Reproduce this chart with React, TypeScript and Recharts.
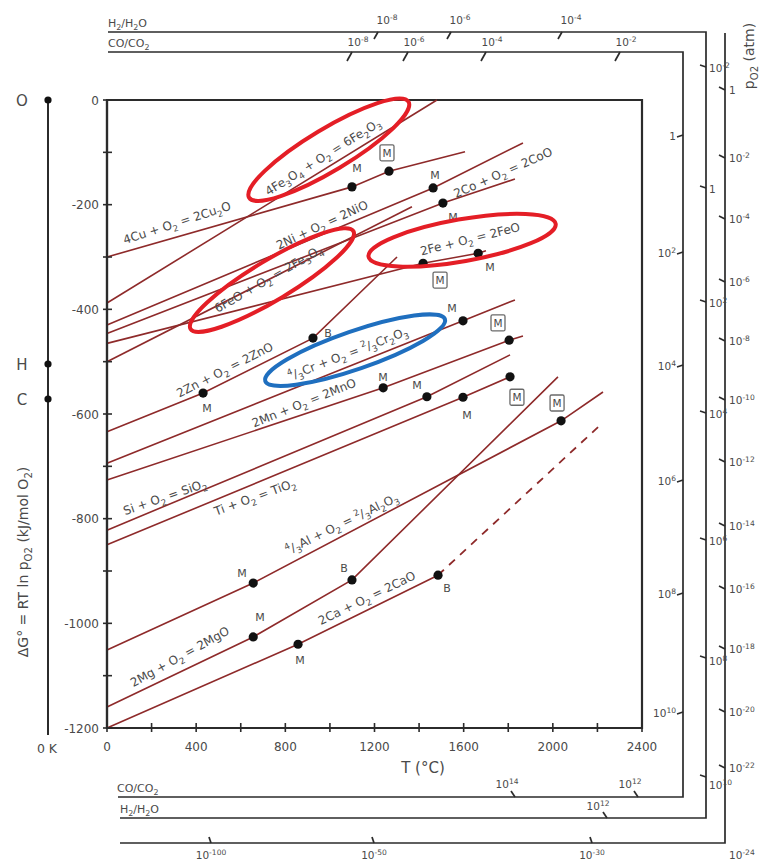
import React from 'react';
import { LineChart, Line, XAxis, YAxis, ReferenceArea, ReferenceDot, Customized } from 'recharts';

type Pt = { t: number; g: number; dot?: boolean };

// ΔG° of oxide formation (T in °C, kJ/mol O2)
const cu2o: Pt[] = [{ t: 0, g: -300 }, { t: 1099, g: -166, dot: true }, { t: 1265, g: -136, dot: true }, { t: 1606, g: -99 }];
const fe2o3: Pt[] = [{ t: 0, g: -388 }, { t: 1480, g: 0 }];
const nio: Pt[] = [{ t: 0, g: -430 }, { t: 1463, g: -168, dot: true }, { t: 1866, g: -82 }];
const coo: Pt[] = [{ t: 0, g: -446 }, { t: 1507, g: -197, dot: true }, { t: 1830, g: -151 }];
const feo: Pt[] = [{ t: 0, g: -465 }, { t: 1418, g: -312, dot: true }, { t: 1665, g: -293, dot: true }, { t: 1700, g: -288 }];
const fe3o4: Pt[] = [{ t: 0, g: -500 }, { t: 1368, g: -204 }];
const zno: Pt[] = [{ t: 0, g: -634 }, { t: 431, g: -560, dot: true }, { t: 924, g: -455, dot: true }, { t: 1301, g: -300 }];
const cr2o3: Pt[] = [{ t: 0, g: -694 }, { t: 1597, g: -422, dot: true }, { t: 1830, g: -382 }];
const mno: Pt[] = [{ t: 0, g: -726 }, { t: 1239, g: -550, dot: true }, { t: 1804, g: -459, dot: true }, { t: 1866, g: -451 }];
const sio2: Pt[] = [{ t: 0, g: -822 }, { t: 1435, g: -567, dot: true }, { t: 1808, g: -487 }];
const tio2: Pt[] = [{ t: 0, g: -850 }, { t: 1597, g: -568, dot: true }, { t: 1808, g: -529, dot: true }];
const al2o3: Pt[] = [{ t: 0, g: -1051 }, { t: 656, g: -923, dot: true }, { t: 2037, g: -613, dot: true }, { t: 2225, g: -558 }];
const mgo: Pt[] = [{ t: 0, g: -1160 }, { t: 656, g: -1026, dot: true }, { t: 1099, g: -917, dot: true }, { t: 2023, g: -529 }];
const cao: Pt[] = [{ t: 0, g: -1200 }, { t: 857, g: -1040, dot: true }, { t: 1485, g: -908, dot: true }];
const caoDashed: Pt[] = [{ t: 1485, g: -908 }, { t: 2203, g: -625 }];

const solidLines = [cu2o, fe2o3, nio, coo, feo, fe3o4, zno, cr2o3, mno, sio2, tio2, al2o3, mgo, cao];

const xTicks = [0, 200, 400, 600, 800, 1000, 1200, 1400, 1600, 1800, 2000, 2200, 2400];
const yTicks = [0, -100, -200, -300, -400, -500, -600, -700, -800, -900, -1000, -1100, -1200];

// reaction labels (centre in data coords, text angle)
const reactionLabels = [
  { text: '4Cu + O_{2} = 2Cu_{2}O', t: 314, g: -235, angle: -18 },
  { text: '4Fe_{3}O_{4} + O_{2} = 6Fe_{2}O_{3}', t: 969, g: -109, angle: -32 },
  { text: '2Ni + O_{2} = 2NiO', t: 965, g: -239, angle: -25 },
  { text: '6FeO + O_{2} = 2Fe_{3}O_{4}', t: 725, g: -342, angle: -30 },
  { text: '2Co + O_{2} = 2CoO', t: 1777, g: -139, angle: -24 },
  { text: '2Fe + O_{2} = 2FeO', t: 1629, g: -266, angle: -14 },
  { text: '2Zn + O_{2} = 2ZnO', t: 529, g: -516, angle: -27 },
  { text: '^{4}/_{3}Cr + O_{2} = ^{2}/_{3}Cr_{2}O_{3}', t: 1081, g: -485, angle: -21 },
  { text: '2Mn + O_{2} = 2MnO', t: 884, g: -579, angle: -22 },
  { text: 'Si + O_{2} = SiO_{2}', t: 260, g: -759, angle: -19 },
  { text: 'Ti + O_{2} = TiO_{2}', t: 664, g: -759, angle: -20 },
  { text: '^{4}/_{3}Al + O_{2} = ^{2}/_{3}Al_{2}O_{3}', t: 1054, g: -810, angle: -26 },
  { text: '2Mg + O_{2} = 2MgO', t: 327, g: -1064, angle: -29 },
  { text: '2Ca + O_{2} = 2CaO', t: 1166, g: -952, angle: -26 },
];

// M = melting point, [M] = oxide melting, B = boiling point
const pointLabels = [
  { text: 'M', t: 1122, g: -130 },
  { text: 'M', t: 1256, g: -101, boxed: true },
  { text: 'M', t: 1471, g: -143 },
  { text: 'M', t: 1552, g: -224 },
  { text: 'M', t: 1494, g: -344, boxed: true },
  { text: 'M', t: 1718, g: -319 },
  { text: 'M', t: 449, g: -589 },
  { text: 'B', t: 991, g: -445 },
  { text: 'M', t: 1548, g: -397 },
  { text: 'M', t: 1238, g: -529 },
  { text: 'M', t: 1754, g: -426, boxed: true },
  { text: 'M', t: 1391, g: -545 },
  { text: 'M', t: 1615, g: -602 },
  { text: 'M', t: 1839, g: -568, boxed: true },
  { text: 'M', t: 2019, g: -579, boxed: true },
  { text: 'M', t: 606, g: -904 },
  { text: 'M', t: 686, g: -988 },
  { text: 'B', t: 1063, g: -894 },
  { text: 'M', t: 866, g: -1070 },
  { text: 'B', t: 1525, g: -933 },
];

// highlight ellipses around the iron and chromium reactions
const highlights = [
  { t: 995, g: -95, rx: 93, ry: 21, angle: -31, color: '#e41e26' },
  { t: 740, g: -344, rx: 95, ry: 20, angle: -31, color: '#e41e26' },
  { t: 1593, g: -268, rx: 95, ry: 21, angle: -10, color: '#e41e26' },
  { t: 1113, g: -478, rx: 95, ry: 19, angle: -19, color: '#1f6fbf' },
];

// nomograph scale labels (powers of ten)
const coTopExp = [-8, -6, -4, -2];
const h2TopExp = [-8, -6, -4];
const coRightExp = [0, 2, 4, 6, 8, 10];
const h2RightExp = [-2, 0, 2, 4, 6, 8, 10];
const coBottomExp = [14, 12];
const h2BottomExp = [12];
const po2RightExp = [0, -2, -4, -6, -8, -10, -12, -14, -16, -18, -20, -22];
const po2BottomExp = [-100, -50, -30];
const oxygenPoints = ['O', 'H', 'C'];

const LINE = '#8e2a2a';
const INK = '#4a4a4a';
const AX = '#2b2b2b';
const FONT = '"DejaVu Sans", Verdana, sans-serif';

const rich = (s: string, fs: number) => {
  const parts = s.split(/(_\{[^}]*\}|\^\{[^}]*\})/).filter(Boolean);
  let shift = 0;
  return parts.map((p, i) => {
    let target = 0;
    let txt = p;
    let size = fs;
    if (p.startsWith('_{')) { target = fs * 0.3; txt = p.slice(2, -1); size = fs * 0.72; }
    else if (p.startsWith('^{')) { target = -fs * 0.42; txt = p.slice(2, -1); size = fs * 0.72; }
    const dy = target - shift;
    shift = target;
    return <tspan key={i} dy={dy} fontSize={size}>{txt}</tspan>;
  });
};

const pow = (e: number) => (e === 0 ? '1' : `10^{${e}}`);

const renderDot = (p: any) =>
  p.payload && p.payload.dot
    ? <circle key={`d${p.index}`} cx={p.cx} cy={p.cy} r={4.6} fill="#111" />
    : <g key={`d${p.index}`} />;

const XTick = (p: any) => {
  const { x, y, payload } = p;
  const v = payload.value;
  return (
    <g>
      <line x1={x} x2={x} y1={y - 5} y2={y + 4} stroke={AX} strokeWidth={1.6} />
      {v % 400 === 0 && (
        <text x={x} y={y + 23} textAnchor="middle" fontSize={12} fill={INK} fontFamily={FONT}>{v}</text>
      )}
    </g>
  );
};

const YTick = (p: any) => {
  const { x, y, payload } = p;
  const v = payload.value;
  return (
    <g>
      <line x1={x - 4} x2={x + 5} y1={y} y2={y} stroke={AX} strokeWidth={1.6} />
      {v % 200 === 0 && (
        <text x={x - 8} y={y + 4.5} textAnchor="end" fontSize={12} fill={INK} fontFamily={FONT}>{v}</text>
      )}
    </g>
  );
};

// the gas-ratio and pO2 nomograph scales wrapped around the plot
const Nomograph = () => {
  const coTopX = [352, 408, 486, 620];
  const h2TopX = [378, 451, 562];
  const coRightY = [135, 252, 365, 480, 593, 712];
  const h2RightY = [67, 188, 302, 413, 540, 658, 777];
  const h2LabelDy = [5, 5, 5, 5, 5, 7, 12];
  const coBottomX = [515, 638];
  const h2BottomX = [607];
  const po2BottomX = [211, 374, 592];
  const po2RightY = [90, 158, 219, 282, 341, 400, 462, 526, 589, 649, 712, 768];
  const oxyY = [100, 364, 399];
  const fs = 10.5;
  const st = { stroke: AX, strokeWidth: 1.7, fill: 'none' };
  return (
    <g fontFamily={FONT}>
      {/* 0 K oxygen-potential scale */}
      <line x1={48} y1={100} x2={48} y2={735} {...st} strokeWidth={2} />
      {oxygenPoints.map((n, i) => (
        <g key={n}>
          <circle cx={48} cy={oxyY[i]} r={3.6} fill="#111" />
          <text x={22} y={oxyY[i] + 5.5} textAnchor="middle" fontSize={15} fill={INK}>{n}</text>
        </g>
      ))}
      <text x={47} y={753} textAnchor="middle" fontSize={12.5} fill={INK}>0 K</text>
      <text x={28} y={562} textAnchor="middle" fontSize={14} fill={INK} transform="rotate(-90 28 562)">
        {rich('ΔG° = RT ln p_{O2}  (kJ/mol O_{2})', 14)}
      </text>
      <text x={423} y={773} textAnchor="middle" fontSize={15} fill={INK}>T (°C)</text>

      {/* frames */}
      <polyline points="108,32 706,32 706,818 120,818" {...st} />
      <polyline points="108,52 683,52 683,797 118,797" {...st} />
      <polyline points="725,33 725,843 120,843" {...st} />
      <text x={108} y={27} fontSize={11} fill={INK}>{rich('H_{2}/H_{2}O', 11)}</text>
      <text x={108} y={47} fontSize={11} fill={INK}>{rich('CO/CO_{2}', 11)}</text>
      <text x={117} y={792} fontSize={11} fill={INK}>{rich('CO/CO_{2}', 11)}</text>
      <text x={120} y={813} fontSize={11} fill={INK}>{rich('H_{2}/H_{2}O', 11)}</text>
      <text x={754} y={56} textAnchor="middle" fontSize={14} fill={INK} transform="rotate(-90 754 56)">
        {rich('p_{O2} (atm)', 14)}
      </text>

      {h2TopExp.map((e, i) => (
        <g key={`ht${e}`}>
          <line x1={h2TopX[i]} y1={32} x2={h2TopX[i] - 4} y2={39} {...st} />
          <text x={h2TopX[i] + 9} y={24} textAnchor="middle" fontSize={fs} fill={INK}>{rich(pow(e), fs)}</text>
        </g>
      ))}
      {coTopExp.map((e, i) => (
        <g key={`ct${e}`}>
          <line x1={coTopX[i]} y1={52} x2={coTopX[i] - 5} y2={61} {...st} />
          <text x={coTopX[i] + 6} y={46} textAnchor="middle" fontSize={fs} fill={INK}>{rich(pow(e), fs)}</text>
        </g>
      ))}
      {coRightExp.map((e, i) => (
        <g key={`cr${e}`}>
          <line x1={683} y1={coRightY[i]} x2={677} y2={coRightY[i] + 2} {...st} />
          <text x={676} y={coRightY[i] + 5} textAnchor="end" fontSize={fs} fill={INK}>{rich(pow(e), fs)}</text>
        </g>
      ))}
      {h2RightExp.map((e, i) => (
        <g key={`hr${e}`}>
          <line x1={706} y1={h2RightY[i]} x2={700} y2={h2RightY[i] - 2} {...st} />
          <text x={709} y={h2RightY[i] + h2LabelDy[i]} fontSize={fs} fill={INK}>{rich(pow(e), fs)}</text>
        </g>
      ))}
      {po2RightExp.map((e, i) => (
        <g key={`pr${e}`}>
          <line x1={719} y1={po2RightY[i] - 3} x2={725} y2={po2RightY[i]} {...st} />
          <text x={729} y={po2RightY[i] + 4} fontSize={fs} fill={INK}>{rich(pow(e), fs)}</text>
        </g>
      ))}
      <text x={729} y={859} fontSize={fs} fill={INK}>{rich(pow(-24), fs)}</text>
      {coBottomExp.map((e, i) => (
        <g key={`cb${e}`}>
          <line x1={coBottomX[i] - 4} y1={791} x2={coBottomX[i]} y2={797} {...st} />
          <text x={coBottomX[i] - 8} y={788} textAnchor="middle" fontSize={fs} fill={INK}>{rich(pow(e), fs)}</text>
        </g>
      ))}
      {h2BottomExp.map((e, i) => (
        <g key={`hb${e}`}>
          <line x1={h2BottomX[i] - 4} y1={812} x2={h2BottomX[i]} y2={818} {...st} />
          <text x={h2BottomX[i] - 9} y={810} textAnchor="middle" fontSize={fs} fill={INK}>{rich(pow(e), fs)}</text>
        </g>
      ))}
      {po2BottomExp.map((e, i) => (
        <g key={`pb${e}`}>
          <line x1={po2BottomX[i] - 2} y1={837} x2={po2BottomX[i]} y2={843} {...st} />
          <text x={po2BottomX[i]} y={859} textAnchor="middle" fontSize={fs} fill={INK}>{rich(pow(e), fs)}</text>
        </g>
      ))}
    </g>
  );
};

export default function App() {
  return (
    <div style={{ position: 'absolute', left: 0, top: 0, background: '#fff' }}>
      <LineChart width={768} height={865} margin={{ top: 100, right: 126, bottom: 112, left: 57 }}>
        <XAxis
          dataKey="t"
          type="number"
          domain={[0, 2400]}
          ticks={xTicks}
          interval={0}
          height={25}
          tickSize={0}
          tickMargin={0}
          tickLine={false}
          tick={<XTick />}
          axisLine={{ stroke: AX, strokeWidth: 2.2 }}
        />
        <YAxis
          dataKey="g"
          type="number"
          domain={[-1200, 0]}
          ticks={yTicks}
          interval={0}
          width={50}
          tickSize={0}
          tickMargin={0}
          tickLine={false}
          tick={<YTick />}
          axisLine={{ stroke: AX, strokeWidth: 2.2 }}
        />
        <Customized component={Nomograph} />
        <ReferenceArea x1={0} x2={2400} y1={-1200} y2={0} fill="none" stroke={AX} strokeWidth={2.2} ifOverflow="visible" />
        {solidLines.map((d, i) => (
          <Line
            key={`l${i}`}
            data={d}
            dataKey="g"
            type="linear"
            stroke={LINE}
            strokeWidth={1.6}
            dot={renderDot}
            activeDot={false}
            isAnimationActive={false}
          />
        ))}
        <Line
          data={caoDashed}
          dataKey="g"
          type="linear"
          stroke={LINE}
          strokeWidth={1.8}
          strokeDasharray="8 7"
          dot={false}
          activeDot={false}
          isAnimationActive={false}
        />
        {reactionLabels.map((r, i) => (
          <ReferenceDot
            key={`r${i}`}
            x={r.t}
            y={r.g}
            r={0}
            ifOverflow="visible"
            shape={(p: any) => (
              <text
                x={p.cx}
                y={p.cy + 4}
                textAnchor="middle"
                fontSize={12}
                fill={INK}
                fontFamily={FONT}
                transform={`rotate(${r.angle} ${p.cx} ${p.cy})`}
              >
                {rich(r.text, 12)}
              </text>
            )}
          />
        ))}
        {pointLabels.map((m, i) => (
          <ReferenceDot
            key={`m${i}`}
            x={m.t}
            y={m.g}
            r={0}
            ifOverflow="visible"
            shape={(p: any) => (
              <g fontFamily={FONT}>
                {m.boxed && (
                  <rect x={p.cx - 7} y={p.cy - 8} width={14} height={16} rx={1.5} fill="#fff" stroke="#6a6a6a" strokeWidth={1.3} />
                )}
                <text x={p.cx} y={p.cy + 4} textAnchor="middle" fontSize={m.boxed ? 10.5 : 11} fill={INK}>{m.text}</text>
              </g>
            )}
          />
        ))}
        {highlights.map((h, i) => (
          <ReferenceDot
            key={`h${i}`}
            x={h.t}
            y={h.g}
            r={0}
            ifOverflow="visible"
            shape={(p: any) => (
              <ellipse
                cx={p.cx}
                cy={p.cy}
                rx={h.rx}
                ry={h.ry}
                fill="none"
                stroke={h.color}
                strokeWidth={4}
                transform={`rotate(${h.angle} ${p.cx} ${p.cy})`}
              />
            )}
          />
        ))}
      </LineChart>
    </div>
  );
}
